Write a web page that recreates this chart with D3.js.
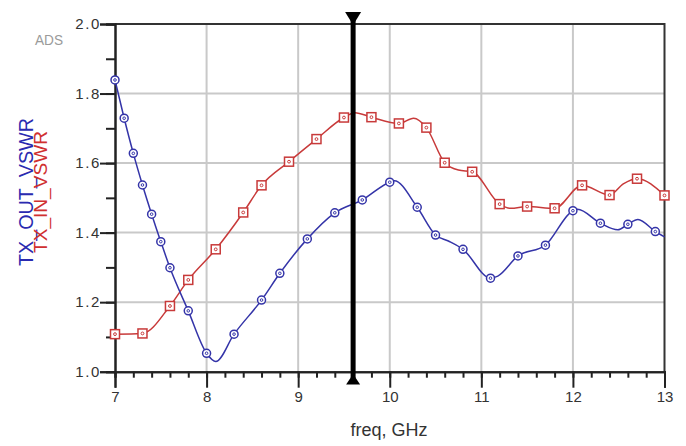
<!DOCTYPE html>
<html>
<head>
<meta charset="utf-8">
<script src="https://cdn.jsdelivr.net/npm/d3@7"></script>
<style>
  html, body { margin: 0; padding: 0; background: #fff; }
  svg { display: block; font-family: "Liberation Sans", Arial, sans-serif; }
</style>
</head>
<body>
<svg id="chart" width="686" height="446"></svg>
<script>
// Frequency sweep (GHz) and VSWR readings; marker flags say which samples get a symbol.
const outFreq   = [7.0, 7.1, 7.2, 7.3, 7.4, 7.5, 7.6, 7.8, 8.0, 8.1, 8.3, 8.6, 8.8, 9.1, 9.4, 9.7, 10.0, 10.05, 10.3, 10.5, 10.64, 10.8, 11.1, 11.18, 11.4, 11.7, 12.0, 12.05, 12.3, 12.49, 12.6, 12.71, 12.9, 13.0];
const outVswr   = [1.839, 1.729, 1.628, 1.537, 1.453, 1.374, 1.299, 1.175, 1.053, 1.029, 1.108, 1.206, 1.283, 1.382, 1.457, 1.494, 1.545, 1.549, 1.473, 1.393, 1.376, 1.352, 1.269, 1.275, 1.333, 1.364, 1.463, 1.467, 1.427, 1.408, 1.424, 1.438, 1.403, 1.388];
const outMarked = [1, 1, 1, 1, 1, 1, 1, 1, 1, 0, 1, 1, 1, 1, 1, 1, 1, 0, 1, 1, 0, 1, 1, 0, 1, 1, 1, 0, 1, 0, 1, 0, 1, 0];

const inFreq    = [7.0, 7.3, 7.6, 7.8, 8.1, 8.4, 8.6, 8.9, 9.2, 9.5, 9.62, 9.8, 10.1, 10.26, 10.4, 10.6, 10.75, 10.9, 11.2, 11.32, 11.5, 11.8, 12.1, 12.4, 12.55, 12.7, 13.0];
const inVswr    = [1.108, 1.110, 1.189, 1.264, 1.352, 1.458, 1.536, 1.604, 1.669, 1.731, 1.745, 1.732, 1.714, 1.729, 1.702, 1.601, 1.580, 1.575, 1.482, 1.470, 1.475, 1.470, 1.536, 1.508, 1.540, 1.555, 1.507];
const inMarked  = [1, 1, 1, 1, 1, 1, 1, 1, 1, 1, 0, 1, 1, 0, 1, 1, 0, 1, 1, 0, 1, 1, 1, 1, 0, 1, 1];

const xMajorTicks = [7, 8, 9, 10, 11, 12, 13];
const yMajorTicks = [1.0, 1.2, 1.4, 1.6, 1.8, 2.0];
const markerFreq = 9.6;

const svg = d3.select("#chart");
const x = d3.scaleLinear().domain([7, 13]).range([115, 664.5]);
const y = d3.scaleLinear().domain([1, 2]).range([371.7, 24]);

const xMinor = d3.range(7, 13.0001, 0.2).map(v => +v.toFixed(1));
const yMinor = d3.range(1, 2.0001, 0.1).map(v => +v.toFixed(1));

// grid
const grid = svg.append("g").attr("stroke", "#c9c9c9").attr("stroke-width", 2);
grid.selectAll("line.v").data(xMajorTicks.slice(1, -1)).join("line")
  .attr("x1", d => x(d)).attr("x2", d => x(d)).attr("y1", y(2)).attr("y2", y(1));
grid.selectAll("line.h").data(yMajorTicks.slice(1, -1)).join("line")
  .attr("y1", d => y(d)).attr("y2", d => y(d)).attr("x1", x(7)).attr("x2", x(13));

// frame: top and right borders
svg.append("path")
  .attr("d", `M${x(7)},${y(2)}H${x(13)}V${y(1)}`)
  .attr("fill", "none").attr("stroke", "#333").attr("stroke-width", 2);

function styleAxis(g) {
  g.select(".domain").attr("stroke", "#222").attr("stroke-width", 2);
  g.selectAll(".tick line").attr("stroke", "#222").attr("stroke-width", 2);
  g.selectAll(".tick text").attr("fill", "#333").style("font-size", "15px")
    .style("font-family", '"Liberation Sans", Arial, sans-serif');
}

// x axis
svg.append("g").attr("transform", `translate(0,${y(1)})`)
  .call(d3.axisBottom(x).tickValues(xMinor).tickSize(6).tickFormat(""))
  .call(styleAxis);
svg.append("g").attr("transform", `translate(0,${y(1)})`)
  .call(d3.axisBottom(x).tickValues(xMajorTicks).tickSize(16).tickPadding(4).tickFormat(d3.format("d")))
  .call(styleAxis);

// y axis
svg.append("g").attr("transform", `translate(${x(7)},0)`)
  .call(d3.axisLeft(y).tickValues(yMinor).tickSize(9).tickFormat(""))
  .call(styleAxis);
svg.append("g").attr("transform", `translate(${x(7)},0)`)
  .call(d3.axisLeft(y).tickValues(yMajorTicks).tickSize(15).tickPadding(-1).tickFormat(d3.format(".1f")))
  .call(styleAxis)
  .call(g => g.selectAll(".tick text").style("letter-spacing", "1.6px"));

// traces
const blue = "#3434a8", red = "#c83a3a";
const line = d3.line().x(d => x(d[0])).y(d => y(d[1])).curve(d3.curveMonotoneX);
const outPts = outFreq.map((f, i) => [f, outVswr[i], outMarked[i]]);
const inPts = inFreq.map((f, i) => [f, inVswr[i], inMarked[i]]);

svg.append("path").datum(inPts).attr("d", line)
  .attr("fill", "none").attr("stroke", red).attr("stroke-width", 1.5);
svg.append("path").datum(outPts).attr("d", line)
  .attr("fill", "none").attr("stroke", blue).attr("stroke-width", 1.5);

// red square symbols
const inSym = svg.append("g").selectAll("g").data(inPts.filter(d => d[2])).join("g")
  .attr("transform", d => `translate(${x(d[0])},${y(d[1])})`);
inSym.append("rect").attr("x", -4.5).attr("y", -4.5).attr("width", 9).attr("height", 9)
  .attr("fill", "#fff").attr("stroke", red).attr("stroke-width", 1.5);
inSym.append("circle").attr("r", 1.4).attr("fill", "none").attr("stroke", red).attr("stroke-width", 1);

// blue circle symbols
const outSym = svg.append("g").selectAll("g").data(outPts.filter(d => d[2])).join("g")
  .attr("transform", d => `translate(${x(d[0])},${y(d[1])})`);
outSym.append("circle").attr("r", 4).attr("fill", "#fff").attr("stroke", blue).attr("stroke-width", 1.5);
outSym.append("circle").attr("r", 1.3).attr("fill", "none").attr("stroke", blue).attr("stroke-width", 1);

// frequency marker
const mx = x(markerFreq);
svg.append("line").attr("x1", mx).attr("x2", mx).attr("y1", 18).attr("y2", 378)
  .attr("stroke", "#000").attr("stroke-width", 5);
svg.append("path").attr("d", `M${mx - 8},12L${mx + 8},12L${mx},25Z`).attr("fill", "#000");
svg.append("path").attr("d", `M${mx - 7},384.5L${mx + 7},384.5L${mx},374Z`).attr("fill", "#000");

// labels
svg.append("text").attr("x", 35).attr("y", 45).attr("textLength", 28).attr("lengthAdjust", "spacingAndGlyphs")
  .attr("fill", "#9a9a9a").style("font-size", "15px").text("ADS");

svg.append("text").attr("transform", "translate(33,192) rotate(-90)").attr("text-anchor", "middle")
  .attr("textLength", 148).attr("lengthAdjust", "spacingAndGlyphs")
  .attr("fill", "#2a2ab0").style("font-size", "20px").text("TX_OUT_VSWR");
svg.append("text").attr("transform", "translate(47,192) rotate(-90)").attr("text-anchor", "middle")
  .attr("textLength", 122).attr("lengthAdjust", "spacingAndGlyphs")
  .attr("fill", "#d03030").style("font-size", "19px").text("TX_IN_VSWR");

svg.append("text").attr("x", 389).attr("y", 436).attr("text-anchor", "middle")
  .attr("fill", "#333").style("font-size", "18px").text("freq, GHz");
</script>
</body>
</html>
